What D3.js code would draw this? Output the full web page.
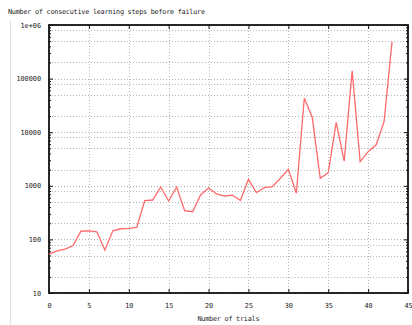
<!DOCTYPE html>
<html>
<head>
<meta charset="utf-8">
<script src="https://cdn.jsdelivr.net/npm/d3@7"></script>
<style>
body { margin: 0; background: #fff; }
text { font-family: "DejaVu Sans Mono", monospace; font-size: 6.8px; fill: #222; }
</style>
</head>
<body>
<div id="chart"></div>
<script>
// steps per trial
var trials = d3.range(0, 44);
var steps = [53, 61, 66, 76, 142, 144, 139, 63, 145, 158,
  160, 168, 530, 543, 950, 520, 950, 343, 329, 673,
  910, 703, 645, 670, 530, 1322, 743, 922, 962, 1380,
  2030, 725, 42900, 18970, 1380, 1754, 15300, 2900, 140000, 2820,
  4330, 5770, 15700, 489000];
var xTicks = [0, 5, 10, 15, 20, 25, 30, 35, 40, 45];
var yTicks = [10, 100, 1000, 10000, 100000, 1000000];
var yTickLabels = ["10", "100", "1000", "10000", "100000", "1e+06"];
var gridMult = [1, 2, 5, 8];

var W = 412, H = 325;
var margin = {top: 25, right: 4, bottom: 32, left: 49},
    width = W - margin.left - margin.right,
    height = H - margin.top - margin.bottom;

var root = d3.select("#chart").append("svg")
    .attr("width", W)
    .attr("height", H);

// faint outer frame line on the left
root.append("line")
    .attr("x1", 10.5).attr("x2", 10.5)
    .attr("y1", 20).attr("y2", H)
    .attr("stroke", "#e2e2e2");

root.append("text")
    .attr("x", 8).attr("y", 14)
    .attr("textLength", 197)
    .text("Number of consecutive learning steps before failure");

var svg = root.append("g")
    .attr("transform", "translate(" + margin.left + "," + margin.top + ")");

var x = d3.scaleLinear().domain([0, 45]).range([0, width]);
var y = d3.scaleLog().domain([10, 1000000]).range([height, 0]);

// grid
var hGrid = [];
yTicks.forEach(function(d) {
  gridMult.forEach(function(m) { if (d * m <= 1000000) hGrid.push(d * m); });
});
svg.append("g").selectAll("line.h")
    .data(hGrid)
    .enter().append("line")
    .attr("x1", 0).attr("x2", width)
    .attr("y1", function(d) { return Math.round(y(d)) + 0.5; })
    .attr("y2", function(d) { return Math.round(y(d)) + 0.5; })
    .attr("stroke", "#b4b4b4")
    .attr("stroke-dasharray", "1,2");
svg.append("g").selectAll("line.v")
    .data(xTicks.slice(1, -1))
    .enter().append("line")
    .attr("x1", function(d) { return Math.round(x(d)) + 0.5; })
    .attr("x2", function(d) { return Math.round(x(d)) + 0.5; })
    .attr("y1", 0).attr("y2", height)
    .attr("stroke", "#b4b4b4")
    .attr("stroke-dasharray", "1,2");

// minor y ticks
var minor = [];
yTicks.slice(0, -1).forEach(function(d) {
  for (var m = 2; m < 10; m++) minor.push(d * m);
});

// axes
var fmt = function(d) { return yTickLabels[yTicks.indexOf(d)]; };
svg.append("g")
    .attr("transform", "translate(0," + height + ")")
    .call(d3.axisBottom(x).tickValues(xTicks).tickSize(-4).tickPadding(10));
svg.append("g")
    .call(d3.axisTop(x).tickValues(xTicks).tickSize(-4).tickFormat(""));
svg.append("g")
    .call(d3.axisLeft(y).tickValues(yTicks).tickFormat(fmt).tickSize(-4).tickPadding(8));
svg.append("g")
    .attr("transform", "translate(" + width + ",0)")
    .call(d3.axisRight(y).tickValues(yTicks).tickFormat("").tickSize(-4));
svg.append("g")
    .call(d3.axisLeft(y).tickValues(minor).tickFormat("").tickSize(-2));
svg.append("g")
    .attr("transform", "translate(" + width + ",0)")
    .call(d3.axisRight(y).tickValues(minor).tickFormat("").tickSize(-2));

svg.selectAll(".domain").remove();
svg.selectAll(".tick line").attr("stroke", "#111");
svg.selectAll(".tick text").style("font-family", "DejaVu Sans Mono, monospace").style("font-size", "6.8px").attr("fill", "#222");

// frame
svg.append("rect")
    .attr("x", 0).attr("y", 0)
    .attr("width", width).attr("height", height)
    .attr("fill", "none")
    .attr("stroke", "#111")
    .attr("stroke-width", 1.8);

// data line
var line = d3.line()
    .x(function(d, i) { return x(trials[i]); })
    .y(function(d) { return y(d); });
svg.append("path")
    .datum(steps)
    .attr("d", line)
    .attr("fill", "none")
    .attr("stroke", "#ff6a6a")
    .attr("stroke-width", 1.3);

root.append("text")
    .attr("x", margin.left + x(22.5)).attr("y", 321)
    .attr("text-anchor", "middle")
    .attr("textLength", 62)
    .text("Number of trials");
</script>
</body>
</html>
